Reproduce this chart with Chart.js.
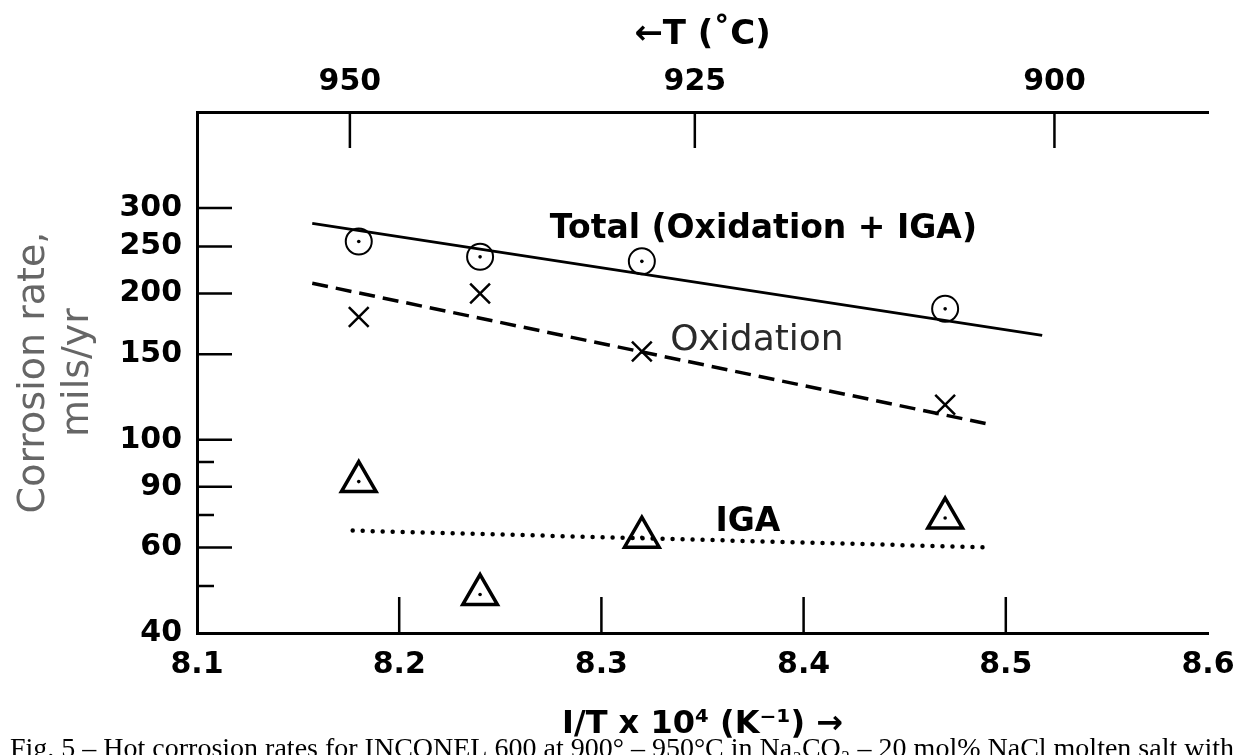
<!DOCTYPE html>
<html>
<head>
<meta charset="utf-8">
<script src="https://cdn.jsdelivr.net/npm/chart.js@4.4.1/dist/chart.umd.min.js"></script>
<style>
html, body { margin: 0; padding: 0; background: #fff; }
#wrap { width: 1257px; height: 755px; }
</style>
</head>
<body>
<div id="wrap"><canvas id="chart" width="1257" height="755"></canvas></div>
<script>
// 1/T x 10^4 of the four tests
const invT = [8.18, 8.24, 8.32, 8.47];
const totalRate = [256, 238, 233, 186];
const oxidRate = [179, 200, 152, 118];
const igaRate = [82, 48, 63, 69];

// fitted lines (end points)
const totalFitX = [8.157, 8.518];
const totalFitY = [279, 164];
const oxidFitX = [8.157, 8.490];
const oxidFitY = [210, 108];
const igaFitX = [8.177, 8.493];
const igaFitY = [65, 60];

const xTicks = [8.1, 8.2, 8.3, 8.4, 8.5, 8.6];
const tempTicks = [950, 925, 900];
const yTickVals = [40, 50, 60, 70, 80, 90, 100, 150, 200, 250, 300];
const yTickLabels = ['40', '', '60', '', '90', '', '100', '150', '200', '250', '300'];

const pts = (xs, ys) => xs.map((x, i) => ({ x, y: ys[i] }));
const tickFont = { family: 'DejaVu Sans', size: 30, weight: 'bold' };

// ticks point into the plot, plus the in-plot labels and the caption
const decor = {
    id: 'decor',
    afterDraw(chart) {
        const { ctx, chartArea: a, scales } = chart;
        ctx.save();
        ctx.strokeStyle = '#000';
        ctx.lineWidth = 2.5;
        ctx.beginPath();
        yTickVals.forEach((v, i) => {
            if (v === 40) return;
            const py = scales.y.getPixelForValue(v);
            ctx.moveTo(a.left, py);
            ctx.lineTo(a.left + (yTickLabels[i] ? 35 : 17), py);
        });
        xTicks.slice(1, -1).forEach(v => {
            const px = scales.x.getPixelForValue(v);
            ctx.moveTo(px, a.bottom);
            ctx.lineTo(px, a.bottom - 36);
        });
        tempTicks.forEach(t => {
            const px = scales.x2.getPixelForValue(1e4 / (t + 273.15));
            ctx.moveTo(px, a.top);
            ctx.lineTo(px, a.top + 36);
        });
        ctx.stroke();

        const label = (text, x, y, font, color) => {
            ctx.font = font;
            ctx.fillStyle = color;
            ctx.textBaseline = 'alphabetic';
            ctx.fillText(text, scales.x.getPixelForValue(x), scales.y.getPixelForValue(y));
        };
        label('Total (Oxidation + IGA)', 8.2745, 260, 'bold 33px "DejaVu Sans"', '#000');
        label('Oxidation', 8.334, 153, '36px "DejaVu Sans"', '#2a2a2a');
        label('IGA', 8.3564, 65, 'bold 33px "DejaVu Sans"', '#000');

        ctx.font = '28px "Liberation Serif"';
        ctx.fillStyle = '#000';
        ctx.fillText('Fig. 5 \u2013 Hot corrosion rates for INCONEL 600 at 900\u00b0 \u2013 950\u00b0C in Na\u2082CO\u2083 \u2013 20 mol% NaCl molten salt with', 10, 757);
        ctx.restore();
    }
};

new Chart(document.getElementById('chart'), {
    type: 'scatter',
    data: {
        datasets: [
            { data: pts(totalFitX, totalFitY), showLine: true, borderColor: '#000', borderWidth: 2.8, pointRadius: 0 },
            { data: pts(oxidFitX, oxidFitY), showLine: true, borderColor: '#000', borderWidth: 3.5, borderDash: [16, 8], pointRadius: 0 },
            { data: pts(igaFitX, igaFitY), showLine: true, borderColor: '#000', borderWidth: 4.5, borderDash: [0, 10], borderCapStyle: 'round', pointRadius: 0 },
            { data: pts(invT, totalRate), pointStyle: 'circle', pointRadius: 13, borderColor: '#000', borderWidth: 2, backgroundColor: 'rgba(0,0,0,0)' },
            { data: pts(invT, oxidRate), pointStyle: 'crossRot', pointRadius: 14, borderColor: '#000', borderWidth: 2.5 },
            { data: pts(invT, igaRate), pointStyle: 'triangle', pointRadius: 20, borderColor: '#000', borderWidth: 3.5, backgroundColor: 'rgba(0,0,0,0)' },
            { data: pts(invT, totalRate).concat(pts(invT, igaRate)), pointRadius: 1.8, borderWidth: 0, backgroundColor: '#000' }
        ]
    },
    options: {
        responsive: false,
        animation: false,
        devicePixelRatio: 1,
        layout: { padding: { left: 0, right: 49, top: 0, bottom: 0 } },
        plugins: { legend: { display: false }, tooltip: { enabled: false } },
        scales: {
            x: {
                type: 'linear', position: 'bottom', min: 8.1, max: 8.6,
                afterBuildTicks: s => { s.ticks = xTicks.map(v => ({ value: v })); },
                afterFit: s => { s.height = 122; },
                grid: { display: false, drawTicks: false },
                border: { display: true, color: '#000', width: 3 },
                ticks: { autoSkip: false, maxRotation: 0, padding: 14, color: '#000', font: tickFont, callback: v => v.toFixed(1) },
                title: { display: true, text: 'I/T x 10\u2074 (K\u207b\u00b9) \u2192', color: '#000', font: { family: 'DejaVu Sans', size: 32, weight: 'bold' }, padding: { bottom: 11 } }
            },
            x2: {
                type: 'linear', position: 'top', min: 8.1, max: 8.6,
                afterBuildTicks: s => { s.ticks = tempTicks.map(t => ({ value: 1e4 / (t + 273.15) })); },
                afterFit: s => { s.height = 112; },
                grid: { display: false, drawTicks: false },
                border: { display: true, color: '#000', width: 3 },
                ticks: { autoSkip: false, maxRotation: 0, padding: 12, color: '#000', font: tickFont, callback: (v, i) => String(tempTicks[i]) },
                title: { display: true, text: '\u2190T (\u02daC)', color: '#000', font: { family: 'DejaVu Sans', size: 34, weight: 'bold' }, padding: { top: 15 } }
            },
            y: {
                type: 'logarithmic', position: 'left', min: 40, max: 473,
                afterBuildTicks: s => { s.ticks = yTickVals.map(v => ({ value: v })); },
                afterFit: s => { s.width = 197; },
                grid: { display: false, drawTicks: false },
                border: { display: true, color: '#000', width: 3 },
                ticks: { autoSkip: false, padding: 15, color: '#000', font: tickFont, callback: (v, i) => yTickLabels[i] },
                title: { display: true, text: ['Corrosion rate,', 'mils/yr'], color: '#666', font: { family: 'DejaVu Sans', size: 38, lineHeight: 1.16 }, padding: { top: 12 } }
            }
        }
    },
    plugins: [decor]
});
</script>
</body>
</html>
